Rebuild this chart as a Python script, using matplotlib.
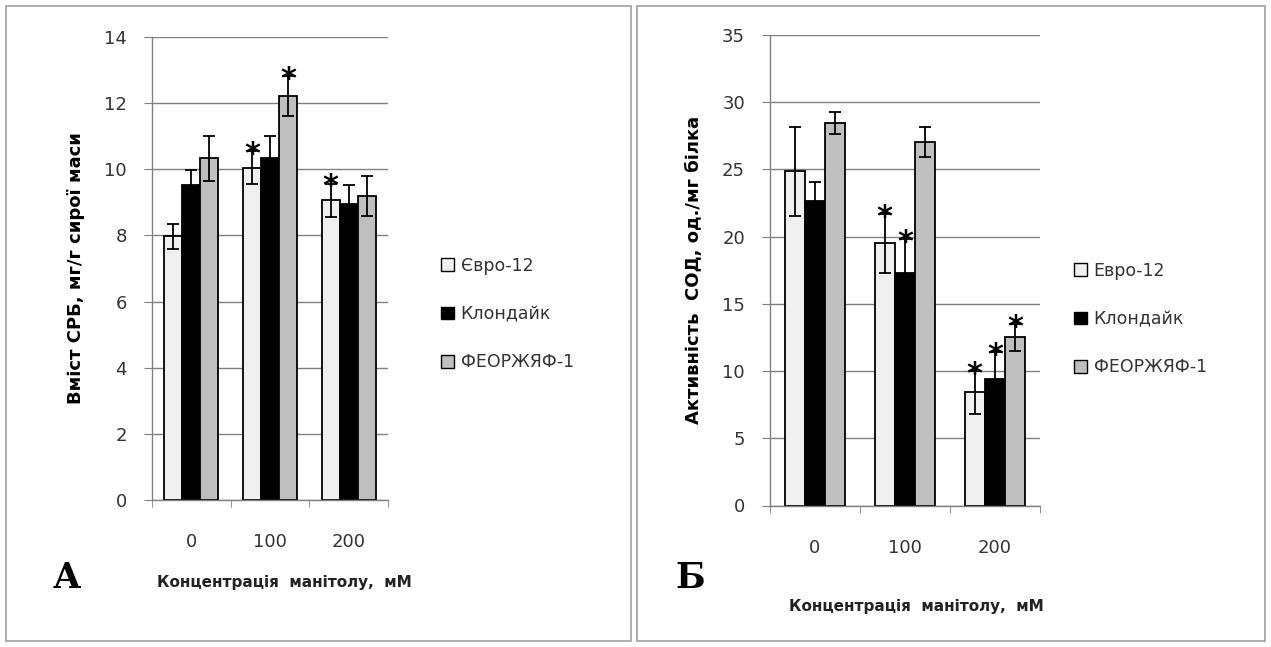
import numpy as np
import matplotlib.pyplot as plt
from matplotlib.patches import Rectangle

# categories and series
conc = ["0", "100", "200"]
series = ["Євро-12", "Клондайк", "ФЕОРЖЯФ-1"]
series_b = ["Евро-12", "Клондайк", "ФЕОРЖЯФ-1"]

# panel A: SRB content
srb = [[7.97, 10.05, 9.07],
       [9.52, 10.35, 8.96],
       [10.33, 12.22, 9.19]]
srb_err = [[0.38, 0.5, 0.5],
           [0.45, 0.65, 0.55],
           [0.67, 0.6, 0.6]]
srb_star = [[False, True, True],
            [False, False, False],
            [False, True, False]]

# panel B: SOD activity
sod = [[24.87, 19.49, 8.42],
       [22.66, 17.31, 9.4],
       [28.46, 27.05, 12.5]]
sod_err = [[3.3, 2.2, 1.6],
           [1.4, 2.5, 2.0],
           [0.8, 1.1, 1.0]]
sod_star = [[False, True, True],
            [False, True, True],
            [False, False, True]]

colors = ["#f0f0f0", "#000000", "#bfbfbf"]
W, H = 1271, 647

fig = plt.figure(figsize=(W / 100, H / 100), dpi=100)

# panel frames
for x0, x1 in [(6, 631), (637, 1265)]:
    fig.patches.append(Rectangle((x0 / W, 6 / H), (x1 - x0) / W, (H - 12) / H,
                                 transform=fig.transFigure, fill=False,
                                 edgecolor="#a0a0a0", linewidth=1.2))


def panel(rect, vals, errs, stars, ymax, ystep, bw, ylabel, labels, leg_pos,
          letter_pos, xlab_pos):
    ax = fig.add_axes(rect)
    x = np.arange(len(conc))
    for i in range(3):
        pos = x + (i - 1) * bw
        ax.bar(pos, vals[i], bw, color=colors[i], edgecolor="black",
               linewidth=1.3, label=labels[i], zorder=2)
        ax.errorbar(pos, vals[i], yerr=errs[i], fmt="none", ecolor="black",
                    elinewidth=1.3, capsize=4, capthick=1.3, zorder=3)
        for j in range(3):
            if stars[i][j]:
                ax.annotate("*", (pos[j], vals[i][j] + errs[i][j]),
                            xytext=(0, -8.5), textcoords="offset points",
                            ha="center", va="baseline", fontsize=22,
                            fontweight="bold", family="DejaVu Sans", zorder=4)
    ax.set_xlim(-0.5, 2.5)
    ax.set_ylim(0, ymax)
    ax.set_yticks(np.arange(0, ymax + 0.1, ystep))
    ax.set_xticks(x)
    ax.set_xticklabels(conc)
    ax.set_xticks([-0.5, 0.5, 1.5, 2.5], minor=True)
    ax.tick_params(axis="x", which="major", length=0, pad=24, labelsize=13,
                   labelcolor="#333333")
    ax.tick_params(axis="x", which="minor", length=5, color="#808080",
                   direction="out")
    ax.tick_params(axis="y", length=6, color="#808080", pad=12, labelsize=13,
                   labelcolor="#333333")
    ax.grid(axis="y", color="#808080", linewidth=1.0, zorder=0)
    ax.set_axisbelow(True)
    for s in ["top", "right"]:
        ax.spines[s].set_visible(False)
    for s in ["left", "bottom"]:
        ax.spines[s].set_color("#808080")
        ax.spines[s].set_linewidth(1.0)
    ax.set_ylabel(ylabel, fontsize=13, fontweight="bold", labelpad=14)
    ax.legend(loc="center left", bbox_to_anchor=leg_pos,
              bbox_transform=fig.transFigure, frameon=False, fontsize=12.5,
              handlelength=0.75, handleheight=0.75, handletextpad=0.4,
              labelspacing=1.75, labelcolor="#333333")
    for h in ax.get_legend().get_patches():
        h.set_linewidth(1.0)
    fig.text(letter_pos[0] / W, 1 - letter_pos[1] / H, letter_pos[2],
             family="DejaVu Serif", fontsize=25, fontweight="bold",
             ha="center", va="center")
    fig.text(xlab_pos[0] / W, 1 - xlab_pos[1] / H,
             "Концентрація  манітолу,  мМ", fontsize=11, fontweight="bold",
             ha="center", va="center", color="#222222")
    return ax


panel([152 / W, (H - 500) / H, 236 / W, 463 / H], srb, srb_err, srb_star,
      14, 2, 0.23, "Вміст СРБ, мг/г сирої маси", series,
      (425 / W, 1 - 314 / H), (67, 578, "А"), (284, 582))
panel([770 / W, (H - 505.5) / H, 270 / W, 470.5 / H], sod, sod_err, sod_star,
      35, 5, 0.225, "Активність  СОД, од./мг білка", series_b,
      (1058 / W, 1 - 319 / H), (690, 578, "Б"), (916, 606))

fig.savefig("out.png", dpi=100)
